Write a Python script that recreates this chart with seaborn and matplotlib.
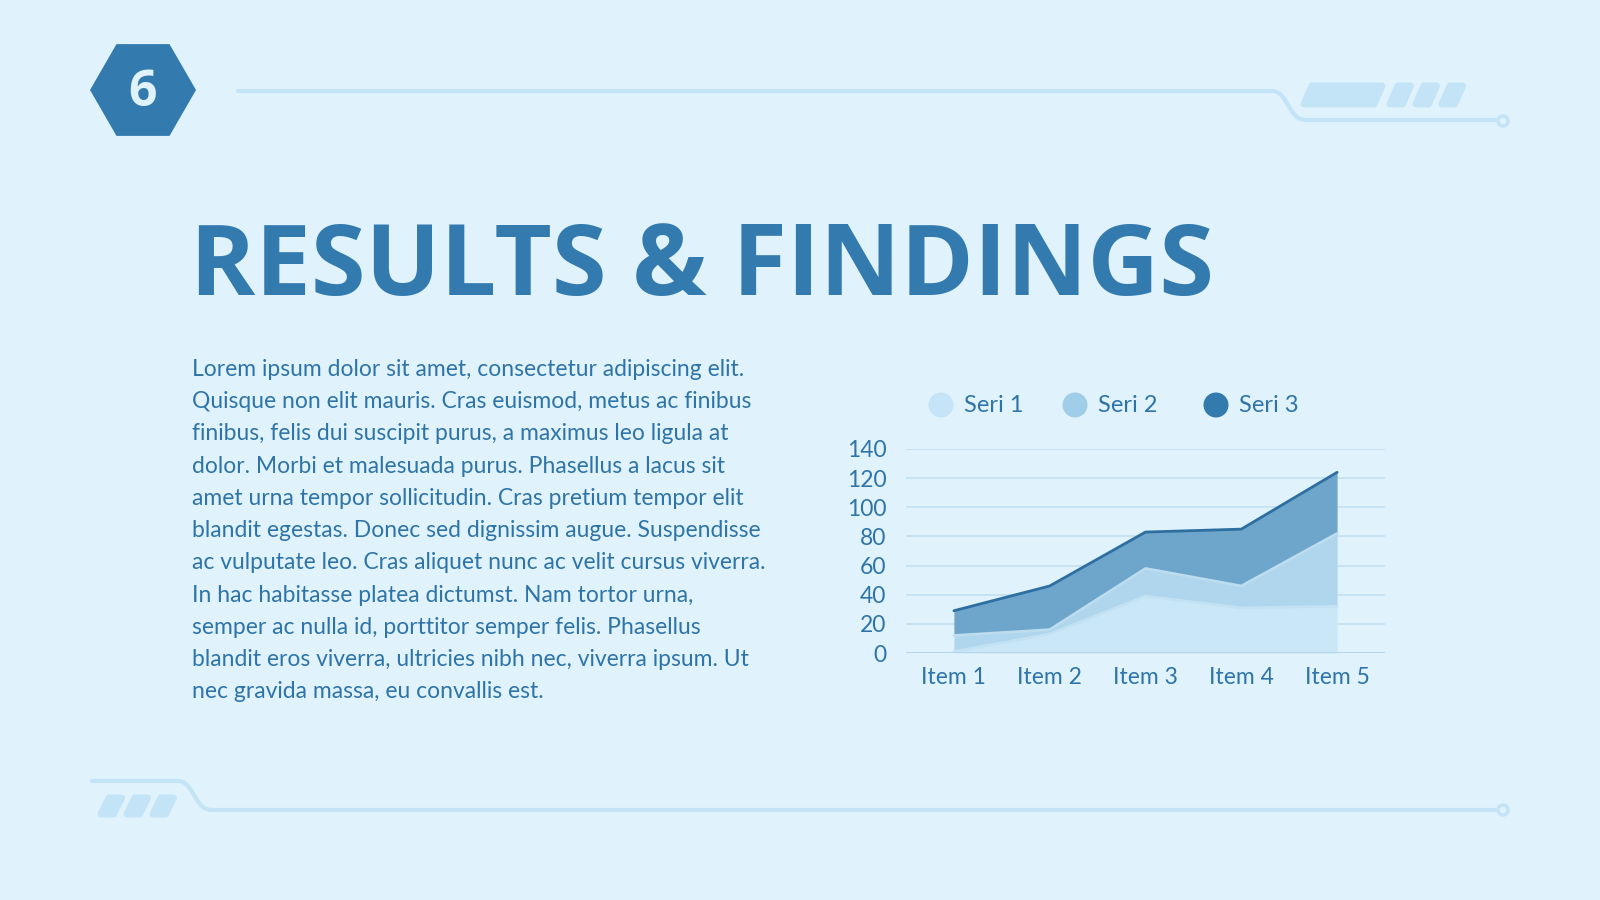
import matplotlib
matplotlib.use("Agg")
import matplotlib.pyplot as plt
import seaborn as sns
import numpy as np
import pandas as pd
from matplotlib.patches import Polygon, Circle, PathPatch
from matplotlib.path import Path

# data
items = ["Item 1", "Item 2", "Item 3", "Item 4", "Item 5"]
seri1 = [1, 13, 39, 31, 32]
seri2 = [11, 3, 19, 15, 50]
seri3 = [17, 30, 25, 39, 42]
series_names = ["Seri 1", "Seri 2", "Seri 3"]
y_ticks = [0, 20, 40, 60, 80, 100, 120, 140]

title = "RESULTS & FINDINGS"
badge = "6"
body = ("Lorem ipsum dolor sit amet, consectetur adipiscing elit.\n"
        "Quisque non elit mauris. Cras euismod, metus ac finibus\n"
        "finibus, felis dui suscipit purus, a maximus leo ligula at\n"
        "dolor. Morbi et malesuada purus. Phasellus a lacus sit\n"
        "amet urna tempor sollicitudin. Cras pretium tempor elit\n"
        "blandit egestas. Donec sed dignissim augue. Suspendisse\n"
        "ac vulputate leo. Cras aliquet nunc ac velit cursus viverra.\n"
        "In hac habitasse platea dictumst. Nam tortor urna,\n"
        "semper ac nulla id, porttitor semper felis. Phasellus\n"
        "blandit eros viverra, ultricies nibh nec, viverra ipsum. Ut\n"
        "nec gravida massa, eu convallis est.")

BG = "#e0f3fd"
DARK = "#337aae"
TEXT = "#2f74a8"
DECO = "#c3e3f6"
fill_colors = ["#c9e7f7", "#afd6ed", "#6ea5cb"]
legend_colors = ["#c5e4f7", "#a0cee8", "#337aae"]

sns.set_theme(style="white")
plt.rcParams["font.family"] = ["Noto Sans", "DejaVu Sans"]

fig = plt.figure(figsize=(16, 9), dpi=100, facecolor=BG)

# background / decoration layer in pixel coordinates
bg = fig.add_axes([0, 0, 1, 1])
bg.set_xlim(0, 1600)
bg.set_ylim(900, 0)
bg.axis("off")
bg.set_facecolor(BG)

# hexagon badge
cx, cy, r = 143, 90, 53
ang = np.radians(np.arange(0, 360, 60))
bg.add_patch(Polygon(np.c_[cx + r * np.cos(ang), cy + r * np.sin(ang)],
                     closed=True, fc=DARK, ec="none"))
bg.text(cx, cy + 3, badge, ha="center", va="center", color=BG,
        fontsize=36, fontweight="bold", family=["Open Sans", "DejaVu Sans"])

# top connector line
top = Path([(238, 91), (1272, 91), (1288, 91), (1288, 120), (1306, 120),
            (1496, 120)],
           [Path.MOVETO, Path.LINETO, Path.CURVE4, Path.CURVE4, Path.CURVE4,
            Path.LINETO])
bg.add_patch(PathPatch(top, fc="none", ec=DECO, lw=3, capstyle="round"))
bg.add_patch(Circle((1503, 121), 5, fc=BG, ec=DECO, lw=2.5))

# bottom connector line
bot = Path([(92, 781), (178, 781), (194, 781), (194, 810), (212, 810),
            (1496, 810)],
           [Path.MOVETO, Path.LINETO, Path.CURVE4, Path.CURVE4, Path.CURVE4,
            Path.LINETO])
bg.add_patch(PathPatch(bot, fc="none", ec=DECO, lw=3, capstyle="round"))
bg.add_patch(Circle((1503, 810), 5, fc=BG, ec=DECO, lw=2.5))


def slant_block(x0, x1, y0, y1, skew=4):
    pts = [(x0 + skew, y0), (x1 + skew, y0), (x1 - skew, y1), (x0 - skew, y1)]
    bg.add_patch(Polygon(pts, closed=True, fc=DECO, ec=DECO, lw=5,
                         joinstyle="round"))


# top-right blocks
slant_block(1308, 1378, 86, 104)
for x0 in (1394, 1420, 1446):
    slant_block(x0, x0 + 12.5, 86, 104)
# bottom-left blocks
for x0 in (105, 131, 157):
    slant_block(x0, x0 + 12.5, 798, 814)

# title and body text
bg.text(190, 295, title, ha="left", va="baseline", color=DARK,
        fontsize=71.5, fontweight="bold", family=["Open Sans", "DejaVu Sans"])
bg.text(192, 359, body, ha="left", va="top", color=TEXT, fontsize=16.5,
        linespacing=1.66, family=["Lato", "DejaVu Sans"])

# chart
ax = fig.add_axes([906 / 1600, 1 - 653 / 900, 479 / 1600, 204 / 900])
ax.set_facecolor("none")
df = pd.DataFrame({"item": items, "Seri 1": seri1, "Seri 2": seri2,
                   "Seri 3": seri3})
x = np.arange(len(items))
stack = df[series_names].cumsum(axis=1)
lower = np.zeros(len(items))
for i, name in enumerate(series_names):
    upper = stack[name].values
    ax.fill_between(x, lower, upper, color=fill_colors[i], lw=0, zorder=2)
    lower = upper
line_colors = ["#c2e2f4", "#bcdcf0", "#2e6fa1"]
for i, name in enumerate(series_names):
    sns.lineplot(x=x, y=stack[name].values, ax=ax, color=line_colors[i],
                 lw=2, zorder=3)

ax.set_xlim(-0.5, 4.5)
ax.set_ylim(0, 140)
ax.set_yticks(y_ticks)
ax.set_xticks(x)
ax.set_xticklabels(items)
ax.yaxis.grid(True, color="#c3dff0", lw=1.2)
ax.set_axisbelow(True)
for s in ax.spines.values():
    s.set_visible(False)
ax.axhline(0, color="#b6d6ea", lw=1.5, zorder=4)
ax.tick_params(axis="both", length=0, labelsize=16.5, labelcolor=TEXT)
ax.tick_params(axis="y", pad=14)
ax.tick_params(axis="x", pad=10)
for lab in ax.get_xticklabels() + ax.get_yticklabels():
    lab.set_family(["Lato", "DejaVu Sans"])

# legend
leg_x = [941, 1075, 1216]
for i, name in enumerate(series_names):
    bg.add_patch(Circle((leg_x[i], 405), 12.5, fc=legend_colors[i], ec="none"))
    bg.text(leg_x[i] + 23, 406, name, ha="left", va="center", color=TEXT,
            fontsize=17, family=["Lato", "DejaVu Sans"])

fig.savefig("out.png", dpi=100, facecolor=BG)
